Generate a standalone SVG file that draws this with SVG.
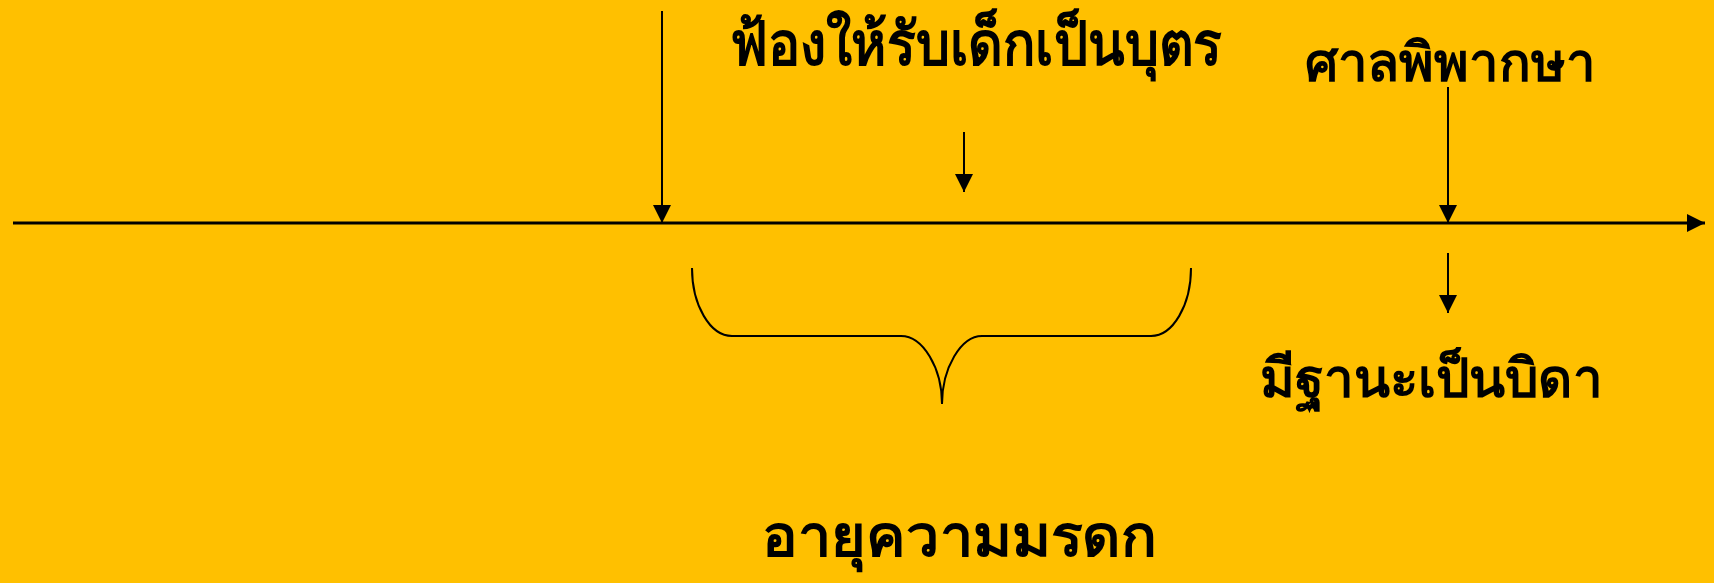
<svg xmlns="http://www.w3.org/2000/svg" width="1714" height="583" viewBox="0 0 1714 583">
<style>
.lbl{font-family:"Noto Sans","Liberation Sans",sans-serif;font-weight:bold;fill:#000}
.ln{stroke:#000;fill:none}
</style>
<defs>
<marker id="ah" markerUnits="userSpaceOnUse" markerWidth="18" markerHeight="18" viewBox="0 0 16 16" refX="16" refY="8" orient="auto">
<path d="M0,0 L16,8 L0,16 Z" fill="#000"/>
</marker>
</defs>
<rect width="1714" height="583" fill="#FFC000"/>
<g id="connectors">
<line class="ln" x1="13" y1="223" x2="1705" y2="223" stroke-width="3" marker-end="url(#ah)"/>
<line class="ln" x1="662" y1="11" x2="662" y2="223" stroke-width="2" marker-end="url(#ah)"/>
<line class="ln" x1="964" y1="132" x2="964" y2="192" stroke-width="2" marker-end="url(#ah)"/>
<line class="ln" x1="1448" y1="87" x2="1448" y2="223" stroke-width="2" marker-end="url(#ah)"/>
<line class="ln" x1="1448" y1="253" x2="1448" y2="313" stroke-width="2" marker-end="url(#ah)"/>
<path id="brace" class="ln" stroke-width="2" d="M692,268 C692,305 710,336 732,336 L901,336 C923,336 942,368 942,404 C942,368 961,336 982,336 L1151,336 C1173,336 1191,305 1191,268"/>
</g>
<g id="node-sue"><text class="lbl" x="730" y="65" font-size="60" textLength="492" lengthAdjust="spacingAndGlyphs">ฟ้องให้รับเด็กเป็นบุตร</text></g>
<g id="node-court"><text class="lbl" x="1305" y="81" font-size="54" textLength="290" lengthAdjust="spacingAndGlyphs">ศาลพิพากษา</text></g>
<g id="node-father"><text class="lbl" x="1260" y="397" font-size="54" textLength="342" lengthAdjust="spacingAndGlyphs">มีฐานะเป็นบิดา</text></g>
<g id="node-limit"><text class="lbl" x="762" y="556" font-size="58" textLength="395" lengthAdjust="spacingAndGlyphs">อายุความมรดก</text></g>
</svg>
